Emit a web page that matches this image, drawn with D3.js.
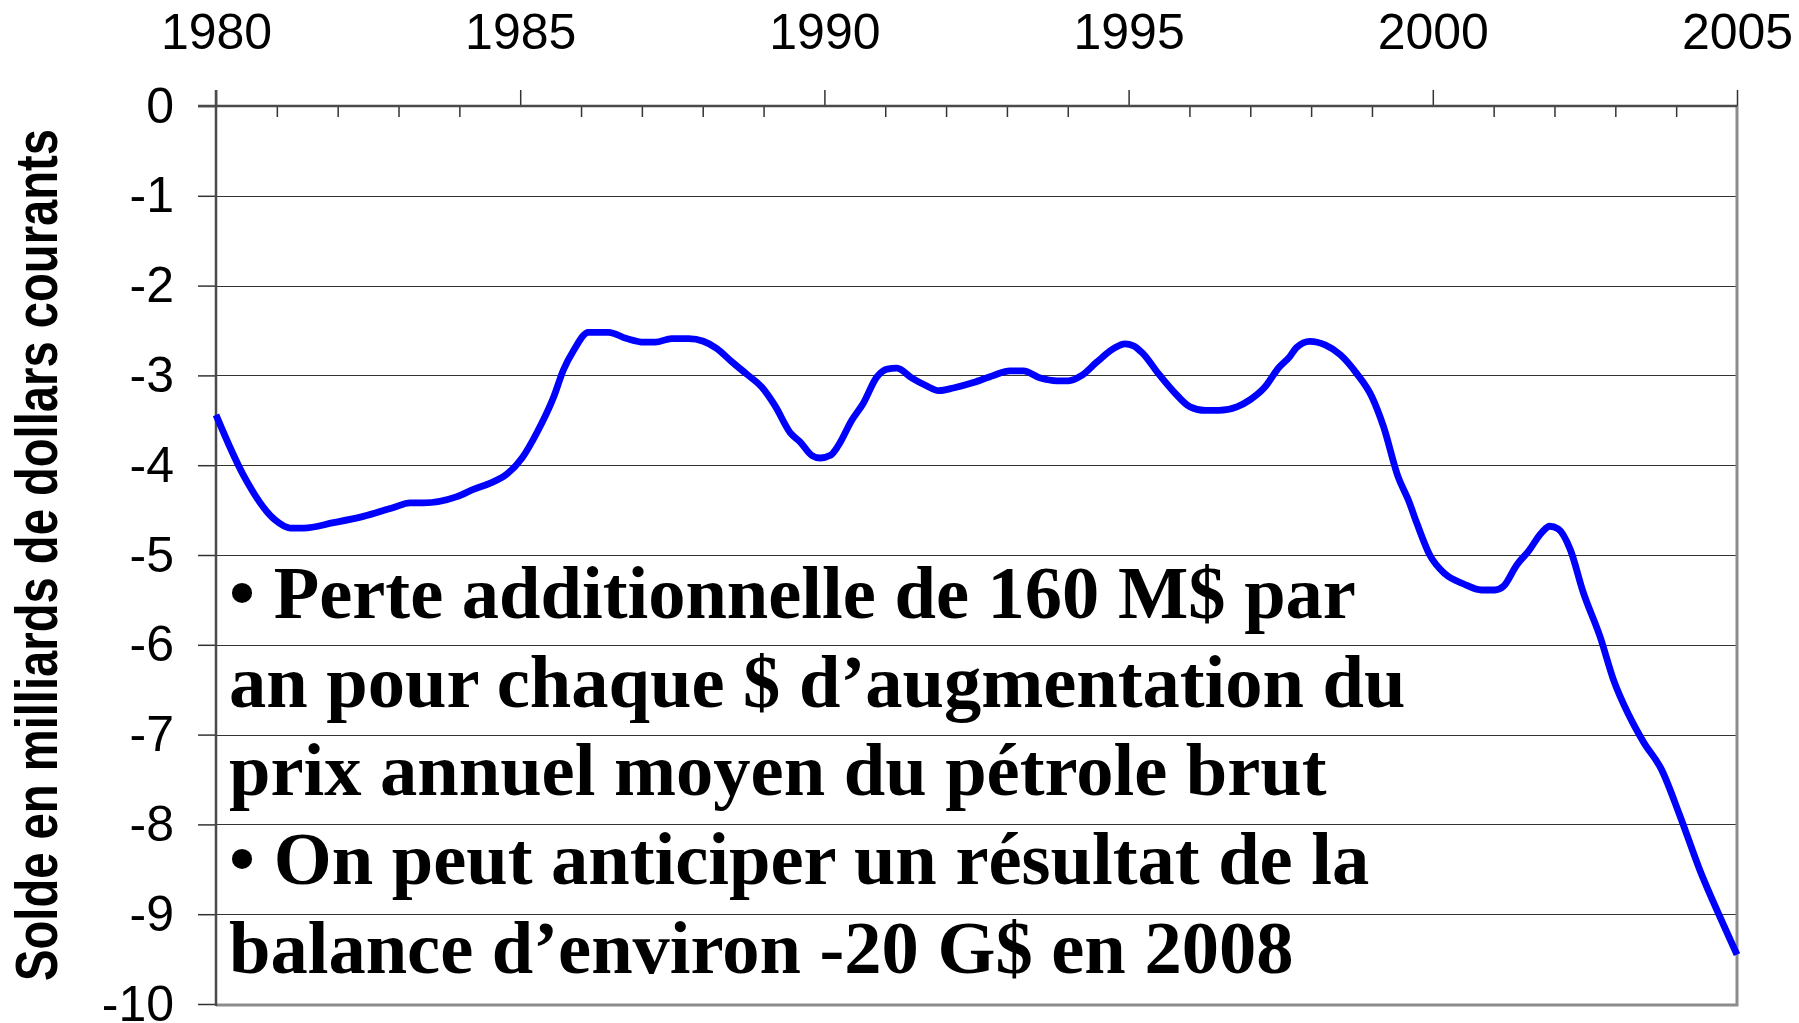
<!DOCTYPE html>
<html>
<head>
<meta charset="utf-8">
<script src="https://cdn.jsdelivr.net/npm/d3@7/dist/d3.min.js"></script>
<style>
  html, body { margin: 0; padding: 0; background: #fff; }
  svg { display: block; }
</style>
</head>
<body>
<svg id="chart" width="1799" height="1023"></svg>
<script>
// balance commerciale (annee decimale, milliards $)
var periods = [1980.00, 1980.45, 1980.97, 1981.22, 1981.44, 1981.93, 1982.42, 1982.92, 1983.19, 1983.41,
  1983.96, 1984.23, 1984.51, 1984.78, 1985.03, 1985.28, 1985.55, 1985.71, 1985.88, 1986.12,
  1986.45, 1986.75, 1987.03, 1987.22, 1987.49, 1987.77, 1988.01, 1988.23, 1988.48, 1988.73,
  1988.97, 1989.19, 1989.44, 1989.60, 1989.79, 1989.93, 1990.10, 1990.23, 1990.45, 1990.64,
  1990.86, 1991.03, 1991.19, 1991.44, 1991.66, 1991.88, 1992.12, 1992.45, 1992.78, 1993.05,
  1993.27, 1993.55, 1993.82, 1994.01, 1994.23, 1994.48, 1994.78, 1994.94, 1995.08, 1995.24,
  1995.49, 1995.74, 1996.01, 1996.26, 1996.48, 1996.78, 1997.00, 1997.24, 1997.46, 1997.65,
  1997.76, 1997.98, 1998.23, 1998.48, 1998.75, 1999.00, 1999.19, 1999.43, 1999.60, 1999.74,
  1999.95, 2000.20, 2000.50, 2000.80, 2001.02, 2001.16, 2001.38, 2001.57, 2001.79, 2001.92,
  2002.06, 2002.26, 2002.47, 2002.75, 2002.97, 2003.22, 2003.46, 2003.76, 2004.06, 2004.39,
  2004.72, 2005.00]
var solde = [-3.44, -4.11, -4.61, -4.70, -4.70, -4.64, -4.57, -4.47, -4.42, -4.42,
  -4.35, -4.27, -4.20, -4.10, -3.92, -3.63, -3.24, -2.94, -2.72, -2.52,
  -2.52, -2.59, -2.63, -2.63, -2.59, -2.59, -2.62, -2.70, -2.85, -2.99,
  -3.13, -3.34, -3.64, -3.74, -3.89, -3.92, -3.89, -3.78, -3.50, -3.31,
  -3.02, -2.93, -2.92, -3.03, -3.11, -3.17, -3.14, -3.08, -3.00, -2.95,
  -2.95, -3.03, -3.06, -3.06, -3.00, -2.85, -2.69, -2.65, -2.67, -2.76,
  -2.98, -3.18, -3.35, -3.39, -3.39, -3.35, -3.27, -3.13, -2.92, -2.79,
  -2.69, -2.62, -2.66, -2.77, -2.98, -3.24, -3.57, -4.13, -4.39, -4.65,
  -5.00, -5.21, -5.32, -5.39, -5.39, -5.35, -5.11, -4.96, -4.75, -4.68,
  -4.71, -4.94, -5.41, -5.91, -6.39, -6.78, -7.08, -7.39, -7.90, -8.51,
  -9.03, -9.45]

var majorYears = [1980, 1985, 1990, 1995, 2000, 2005]
var minorYears = d3.range(1980, 2006).filter(function (d) { return d % 5 != 0 })
var yTicks = [0, -1, -2, -3, -4, -5, -6, -7, -8, -9, -10]
var yTickLabels = ["0", "-1", "-2", "-3", "-4", "-5", "-6", "-7", "-8", "-9", "-10"]
var yTitle = "Solde en milliards de dollars courants"
var noteLines = [
  "\u2022 Perte additionnelle de 160 M$ par",
  "an pour chaque $ d\u2019augmentation du",
  "prix annuel moyen du p\u00e9trole brut",
  "\u2022 On peut anticiper un r\u00e9sultat de la",
  "balance d\u2019environ -20 G$ en 2008"
]

var sans = "'Liberation Sans', Arial, Helvetica, sans-serif"
var serif = "'Liberation Serif', 'Times New Roman', serif"

// plot box (window.top is read-only, so prefixed names)
var plotLeft = 216, plotRight = 1737, plotTop = 106, plotBottom = 1004

var x = d3.scaleLinear().domain([1980, 2005]).range([plotLeft, plotRight])
var y = d3.scaleLinear().domain([0, -10]).range([plotTop, plotBottom])

var svg = d3.select("#chart")
svg.append("rect").attr("width", 1799).attr("height", 1023).attr("fill", "#fff")

// horizontal gridlines
svg.append("g")
  .selectAll("line")
  .data(yTicks.filter(function (d) { return d != 0 && d != -10 }))
  .join("line")
  .attr("x1", plotLeft).attr("x2", plotRight)
  .attr("y1", function (d) { return Math.round(y(d)) + 0.5 })
  .attr("y2", function (d) { return Math.round(y(d)) + 0.5 })
  .attr("stroke", "#333")
  .attr("stroke-width", 1.2)

// right + bottom frame (grey)
svg.append("path")
  .attr("d", "M" + plotRight + "," + plotTop + "V" + (plotBottom + 1) + "H" + plotLeft)
  .attr("fill", "none")
  .attr("stroke", "#8c8c8c")
  .attr("stroke-width", 3)

// top axis: major ticks above with labels, minor ticks below
var xAxis = svg.append("g")
  .attr("transform", "translate(0," + plotTop + ")")
  .call(d3.axisTop(x).tickValues(majorYears).tickSize(16).tickPadding(41)
    .tickFormat(function (d) { return String(d) }))
xAxis.select(".domain").remove()

var xMinor = svg.append("g")
  .attr("transform", "translate(0," + plotTop + ")")
  .call(d3.axisTop(x).tickValues(minorYears).tickSize(-11).tickFormat(""))
xMinor.select(".domain").remove()

// left axis
var yAxis = svg.append("g")
  .attr("transform", "translate(" + plotLeft + ",0)")
  .call(d3.axisLeft(y).tickValues(yTicks).tickSize(18).tickPadding(24)
    .tickFormat(function (d, i) { return yTickLabels[i] }))
yAxis.select(".domain").remove()

svg.selectAll(".tick line").attr("stroke", "#333").attr("stroke-width", 1.5)
svg.selectAll(".tick text")
  .attr("fill", "#000")
  .style("font-family", sans)
  .style("font-size", "50px")

// axis lines
svg.append("line")
  .attr("x1", plotLeft - 18).attr("x2", plotRight)
  .attr("y1", plotTop).attr("y2", plotTop)
  .attr("stroke", "#4a4a4a").attr("stroke-width", 2.5)
svg.append("line")
  .attr("x1", plotLeft).attr("x2", plotLeft)
  .attr("y1", plotTop - 16).attr("y2", plotBottom + 2)
  .attr("stroke", "#4a4a4a").attr("stroke-width", 2.5)

// y axis title
svg.append("text")
  .attr("transform", "translate(57,555) rotate(-90)")
  .attr("text-anchor", "middle")
  .attr("textLength", 852)
  .attr("lengthAdjust", "spacingAndGlyphs")
  .style("font-family", sans)
  .style("font-weight", "bold")
  .style("font-size", "59px")
  .text(yTitle)

// series line
var line = d3.line()
  .x(function (d) { return x(d[0]) })
  .y(function (d) { return y(d[1]) })
  .curve(d3.curveMonotoneX)

svg.append("path")
  .datum(d3.zip(periods, solde))
  .attr("fill", "none")
  .attr("stroke", "#0000ff")
  .attr("stroke-width", 6.8)
  .attr("stroke-linejoin", "round")
  .attr("d", line)

// annotation over the plot
svg.append("g")
  .selectAll("text")
  .data(noteLines)
  .join("text")
  .attr("x", 229)
  .attr("y", function (d, i) { return 618 + i * 88.7 })
  .style("font-family", serif)
  .style("font-weight", "bold")
  .style("font-size", "74.5px")
  .text(function (d) { return d })
</script>
</body>
</html>
